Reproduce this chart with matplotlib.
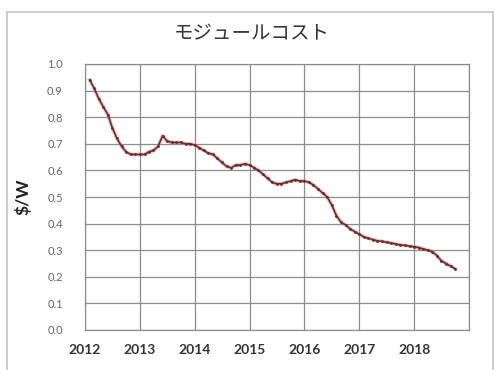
import matplotlib
matplotlib.use("Agg")
import matplotlib.pyplot as plt
from matplotlib.patches import Rectangle
import pandas as pd

plt.rcParams['font.family'] = ['Lato', 'Noto Sans CJK JP', 'DejaVu Sans']

title = "モジュールコスト"
y_label = "$/W"
start_month = "2012-02-01"
# monthly module cost, $/W (Feb 2012 - Oct 2018)
cost = [
    0.94, 0.91, 0.87, 0.84, 0.81, 0.76, 0.72, 0.69, 0.67, 0.66, 0.66,
    0.66, 0.66, 0.67, 0.675, 0.69, 0.73, 0.71, 0.705, 0.705, 0.705, 0.70, 0.70,
    0.695, 0.685, 0.675, 0.665, 0.66, 0.645, 0.63, 0.615, 0.61, 0.62, 0.62, 0.625,
    0.62, 0.61, 0.60, 0.585, 0.57, 0.555, 0.55, 0.55, 0.555, 0.56, 0.565, 0.56,
    0.56, 0.555, 0.545, 0.53, 0.515, 0.50, 0.47, 0.43, 0.405, 0.395, 0.38, 0.37,
    0.36, 0.35, 0.345, 0.34, 0.335, 0.333, 0.33, 0.327, 0.323, 0.32, 0.318, 0.315,
    0.313, 0.31, 0.305, 0.30, 0.295, 0.28, 0.26, 0.25, 0.24, 0.23,
]
year_ticks = [2012, 2013, 2014, 2015, 2016, 2017, 2018, 2019]
year_labels = ["2012", "2013", "2014", "2015", "2016", "2017", "2018", ""]
y_ticks = [0.0, 0.1, 0.2, 0.3, 0.4, 0.5, 0.6, 0.7, 0.8, 0.9, 1.0]

dates = pd.date_range(start_month, periods=len(cost), freq="MS")

W, H = 495, 370
fig = plt.figure(figsize=(W / 100, H / 100), dpi=100)
fig.patch.set_facecolor("white")

# outer chart frame
fig.patches.append(Rectangle((7 / W, -0.05), (493 - 7) / W, (H - 12) / H + 0.05,
                             transform=fig.transFigure, fill=False,
                             edgecolor="#c4c4c4", linewidth=1.2))

ax = fig.add_axes([85 / W, 1 - 330 / H, (469 - 85) / W, (330 - 64) / H])

ax.plot(dates, cost, color="#d08080", linewidth=2.6, alpha=0.55, zorder=3)
ax.plot(dates, cost, color="#6a2a2a", linewidth=1.1, marker="o",
        markersize=2.0, markeredgewidth=0, zorder=4)

tick_dates = [pd.Timestamp(f"{y}-01-01") for y in year_ticks]
ax.set_xlim(tick_dates[0], tick_dates[-1])
ax.set_ylim(0, 1.0)
ax.set_xticks(tick_dates)
ax.set_xticklabels(year_labels)
ax.set_yticks(y_ticks)
ax.set_yticklabels([f"{v:.1f}" for v in y_ticks])

ax.grid(True, color="#8c8c8c", linewidth=0.9)
ax.set_axisbelow(True)
for s in ax.spines.values():
    s.set_color("#8c8c8c")
    s.set_linewidth(0.9)

ax.tick_params(axis="both", length=0)
ax.tick_params(axis="y", pad=16, labelsize=8, labelcolor="#666666")
ax.tick_params(axis="x", pad=10, labelsize=10, labelcolor="#333333")
for lab in ax.get_xticklabels():
    lab.set_fontweight("bold")

ax.set_ylabel(y_label, fontsize=12.5, fontweight="bold", color="#222222",
              labelpad=11)
fig.text(252 / W, 1 - 34 / H, title, ha="center", va="center", fontsize=14,
         color="#333333", family=["Noto Sans CJK JP", "DejaVu Sans"])

fig.savefig("out.png", dpi=100)
